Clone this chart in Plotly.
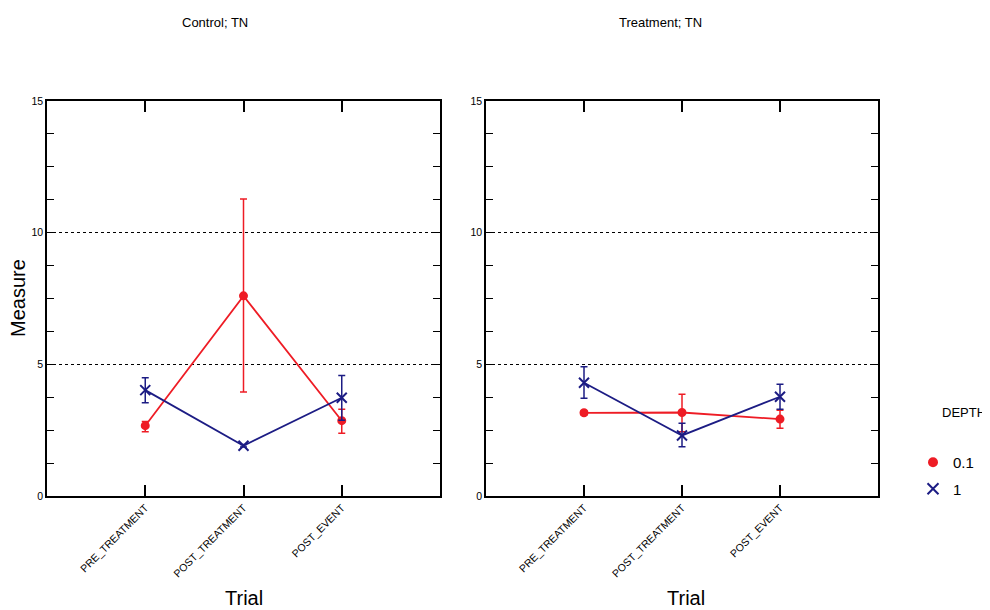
import plotly.graph_objects as go

W, H = 990, 610
OFF = 8  # default body margin of the page

categories = ["PRE_TREATMENT", "POST_TREATMENT", "POST_EVENT"]
panel_titles = ["Control; TN", "Treatment; TN"]
depth_labels = ["0.1", "1"]

# Control; TN
ctrl_d01 = [2.67, 7.60, 2.86]
ctrl_d01_plus = [0.16, 3.68, 0.43]
ctrl_d01_minus = [0.23, 3.65, 0.48]
ctrl_d1 = [4.02, 1.91, 3.73]
ctrl_d1_plus = [0.47, 0.05, 0.85]
ctrl_d1_minus = [0.48, 0.05, 0.85]

# Treatment; TN
trt_d01 = [3.16, 3.17, 2.92]
trt_d01_plus = [0.08, 0.69, 0.34]
trt_d01_minus = [0.08, 0.73, 0.35]
trt_d1 = [4.30, 2.30, 3.77]
trt_d1_plus = [0.61, 0.46, 0.47]
trt_d1_minus = [0.59, 0.43, 0.48]

RED = "#ee1c25"
BLUE = "#1c1c84"

def px_x(p):
    return (p - OFF) / W

def px_y(p):
    return (H - (p - OFF)) / H

fig = go.Figure()

def add_series(xa, ya, y, plus, minus, color, symbol, size):
    fig.add_trace(go.Scatter(
        x=categories, y=y, xaxis=xa, yaxis=ya,
        mode="lines+markers",
        line=dict(color=color, width=1.8),
        marker=dict(color=color, symbol=symbol, size=size,
                    line=dict(color=color, width=2)),
        error_y=dict(type="data", symmetric=False, array=plus, arrayminus=minus,
                     color=color, thickness=1.5, width=3.5),
        showlegend=False,
    ))

add_series("x", "y", ctrl_d01, ctrl_d01_plus, ctrl_d01_minus, RED, "circle", 7)
add_series("x", "y", ctrl_d1, ctrl_d1_plus, ctrl_d1_minus, BLUE, "x-thin", 10)
add_series("x2", "y2", trt_d01, trt_d01_plus, trt_d01_minus, RED, "circle", 7)
add_series("x2", "y2", trt_d1, trt_d1_plus, trt_d1_minus, BLUE, "x-thin", 10)

# legend-only entries (marker only)
fig.add_trace(go.Scatter(x=[None], y=[None], mode="markers", name=depth_labels[0],
                         marker=dict(color=RED, symbol="circle", size=10),
                         legendgroup="a"))
fig.add_trace(go.Scatter(x=[None], y=[None], mode="markers", name=depth_labels[1],
                         marker=dict(color=BLUE, symbol="x-thin", size=11,
                                     line=dict(color=BLUE, width=2)),
                         legendgroup="b"))

xdom1 = [px_x(47), px_x(440)]
xdom2 = [px_x(486), px_x(878)]
ydom = [px_y(496), px_y(101)]

xcommon = dict(
    type="category", range=[-1, 3], showline=True, linecolor="black", linewidth=1.5,
    mirror="allticks", ticks="inside", ticklen=11, tickwidth=1.5, tickcolor="black",
    tickangle=-45, tickfont=dict(family="Liberation Sans, Arial", size=10.5, color="black"),
    showgrid=False, zeroline=False, automargin=False,
)
ycommon = dict(
    range=[0, 15], tickvals=[0, 5, 10, 15], showline=True, linecolor="black", linewidth=1.5,
    mirror="allticks", ticks="inside", ticklen=7, tickwidth=1.2, tickcolor="black",
    minor=dict(dtick=1.25, ticks="inside", ticklen=7, tickwidth=1.2, tickcolor="black", showgrid=False),
    tickfont=dict(family="Liberation Sans, Arial", size=10.5, color="black"),
    showgrid=True, gridcolor="black", griddash="dot", gridwidth=1.4, zeroline=False,
    automargin=False,
)

fig.update_layout(
    width=W, height=H,
    margin=dict(l=0, r=0, t=0, b=0),
    paper_bgcolor="white", plot_bgcolor="white",
    xaxis=dict(domain=xdom1, anchor="y", **xcommon),
    yaxis=dict(domain=ydom, anchor="x", **ycommon),
    xaxis2=dict(domain=xdom2, anchor="y2", **xcommon),
    yaxis2=dict(domain=ydom, anchor="x2", **ycommon),
    legend=dict(x=px_x(913), y=px_y(446), xanchor="left", yanchor="top",
                font=dict(family="Liberation Sans, Arial", size=15, color="black"),
                tracegroupgap=4, bgcolor="rgba(0,0,0,0)"),
    showlegend=True,
)

def a(text, x, y, size, family="Liberation Sans, Arial", **kw):
    d = dict(text=text, x=px_x(x), y=px_y(y), xref="paper", yref="paper",
             xanchor=kw.pop("xanchor", "center"), yanchor="middle",
             showarrow=False, font=dict(family=family, size=size, color="black"))
    d.update(kw)
    return d

narrow = "Liberation Sans Narrow, Liberation Sans"
ann = [
    a(panel_titles[0], 215, 22, 13, narrow),
    a(panel_titles[1], 660, 22, 13, narrow),
    a("Measure", 18, 298, 20, textangle=-90),
    a("Trial", 244, 598, 20),
    a("Trial", 686, 598, 20),
    a("DEPTH", 940, 412, 13, narrow, xanchor="left"),
]
fig.update_layout(annotations=ann)

fig.write_html("out.html")
